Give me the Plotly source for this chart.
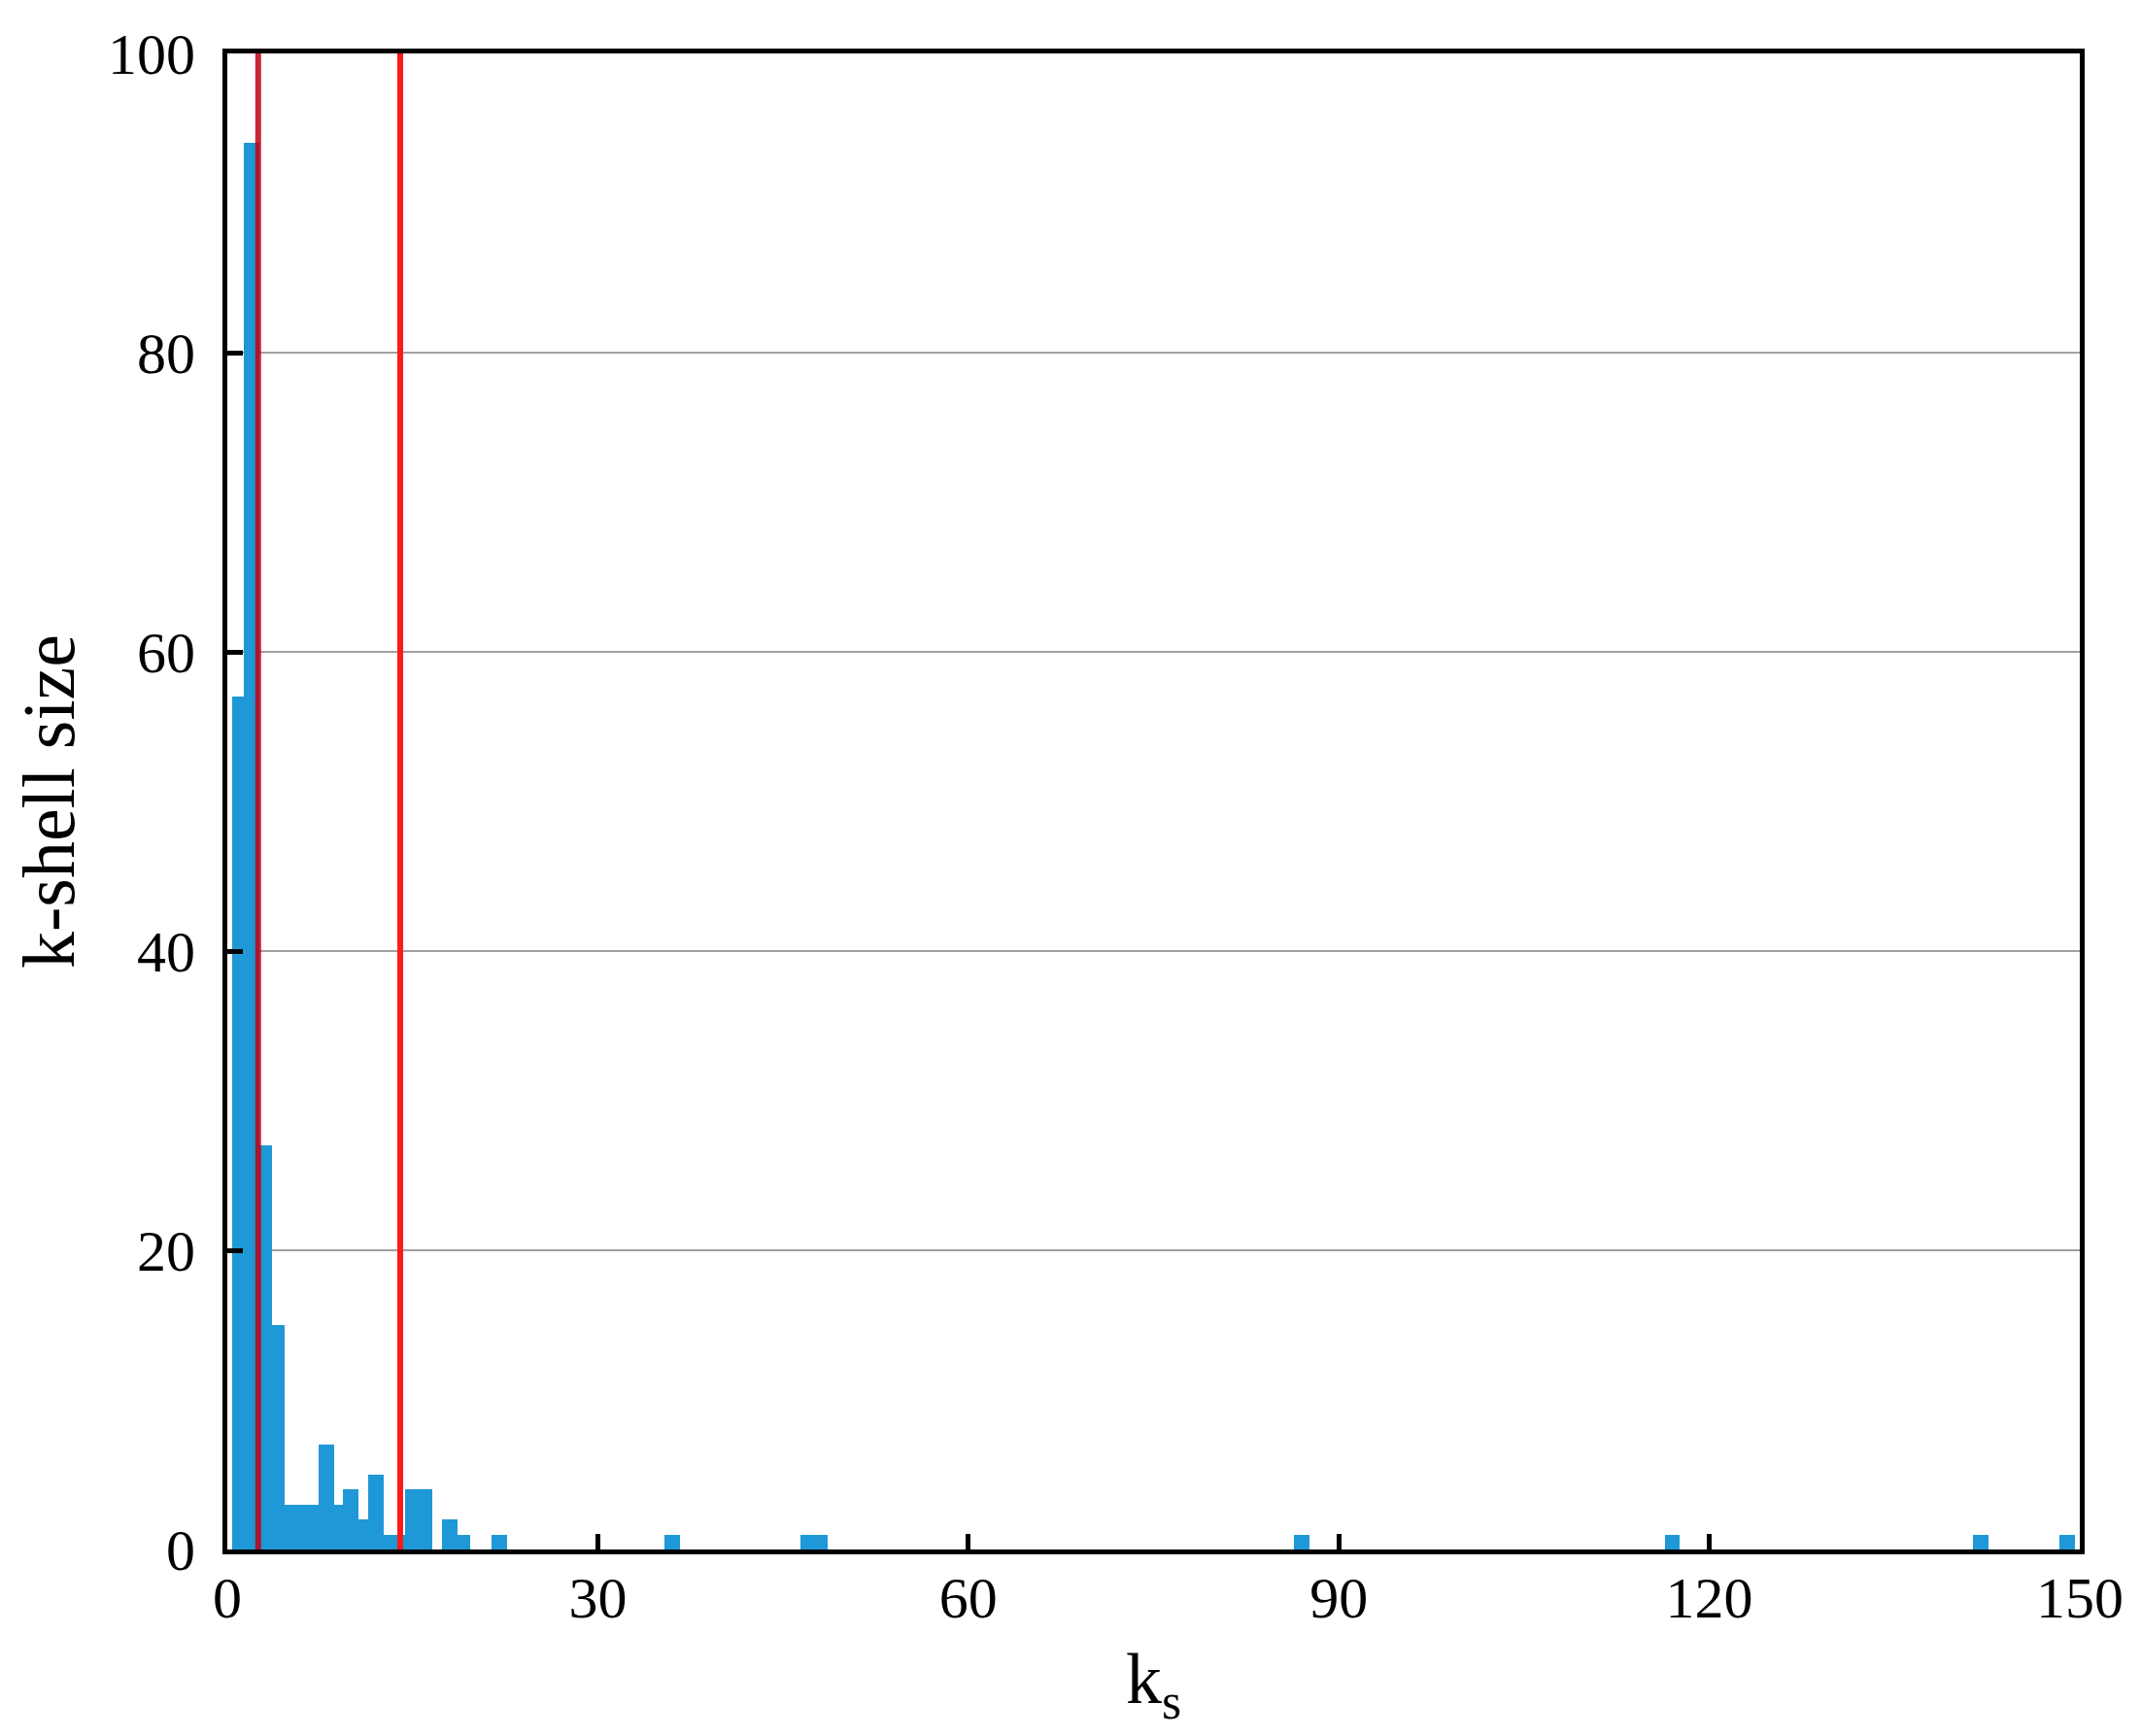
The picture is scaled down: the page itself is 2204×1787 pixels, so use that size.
import plotly.graph_objects as go

# Data
ks_values = [1, 2, 3, 4, 5, 6, 7, 8, 9, 10, 11, 12, 13, 14, 15, 16, 18, 19, 22, 36, 47, 48, 87, 117, 142, 149]
shell_sizes = [57, 94, 27, 15, 3, 3, 3, 7, 3, 4, 2, 5, 1, 1, 4, 4, 2, 1, 1, 1, 1, 1, 1, 1, 1, 1]
thresholds = [2.5, 14]
threshold_colors = ["rgba(190,0,20,0.85)", "#ff1a1a"]
x_ticks = [0, 30, 60, 90, 120, 150]
y_ticks = [0, 20, 40, 60, 80, 100]

FONT = "Liberation Serif, Times New Roman, serif"

fig = go.Figure()
fig.add_trace(go.Bar(
    x=ks_values,
    y=shell_sizes,
    width=1.25,
    marker=dict(color="#1e98d6", line=dict(width=0)),
    showlegend=False,
))

for xv, col in zip(thresholds, threshold_colors):
    fig.add_vline(x=xv, line=dict(color=col, width=6), layer="above")

fig.update_layout(
    width=2204,
    height=1787,
    paper_bgcolor="white",
    plot_bgcolor="white",
    margin=dict(l=226, r=71, t=47, b=200),
    bargap=0,
    font=dict(family=FONT, color="black"),
)

fig.update_xaxes(
    range=[0, 150],
    tickvals=x_ticks,
    ticks="inside",
    ticklen=16,
    tickwidth=5,
    tickcolor="black",
    showline=True,
    linecolor="black",
    linewidth=5,
    mirror=True,
    showgrid=False,
    zeroline=False,
    tickfont=dict(family=FONT, size=60, color="black"),
    ticklabelstandoff=-7,
    title=dict(text="k<sub>s</sub>", font=dict(family=FONT, size=74, color="black"), standoff=26),
)

fig.update_yaxes(
    range=[0, 100],
    tickvals=y_ticks,
    ticks="inside",
    ticklen=16,
    tickwidth=5,
    tickcolor="black",
    showline=True,
    linecolor="black",
    linewidth=5,
    mirror=True,
    showgrid=True,
    gridcolor="#a0a0a0",
    gridwidth=2,
    zeroline=False,
    tickfont=dict(family=FONT, size=60, color="black"),
    ticklabelstandoff=16,
    title=dict(text="k-shell size", font=dict(family=FONT, size=76, color="black"), standoff=26),
)

fig.write_html("out.html")
